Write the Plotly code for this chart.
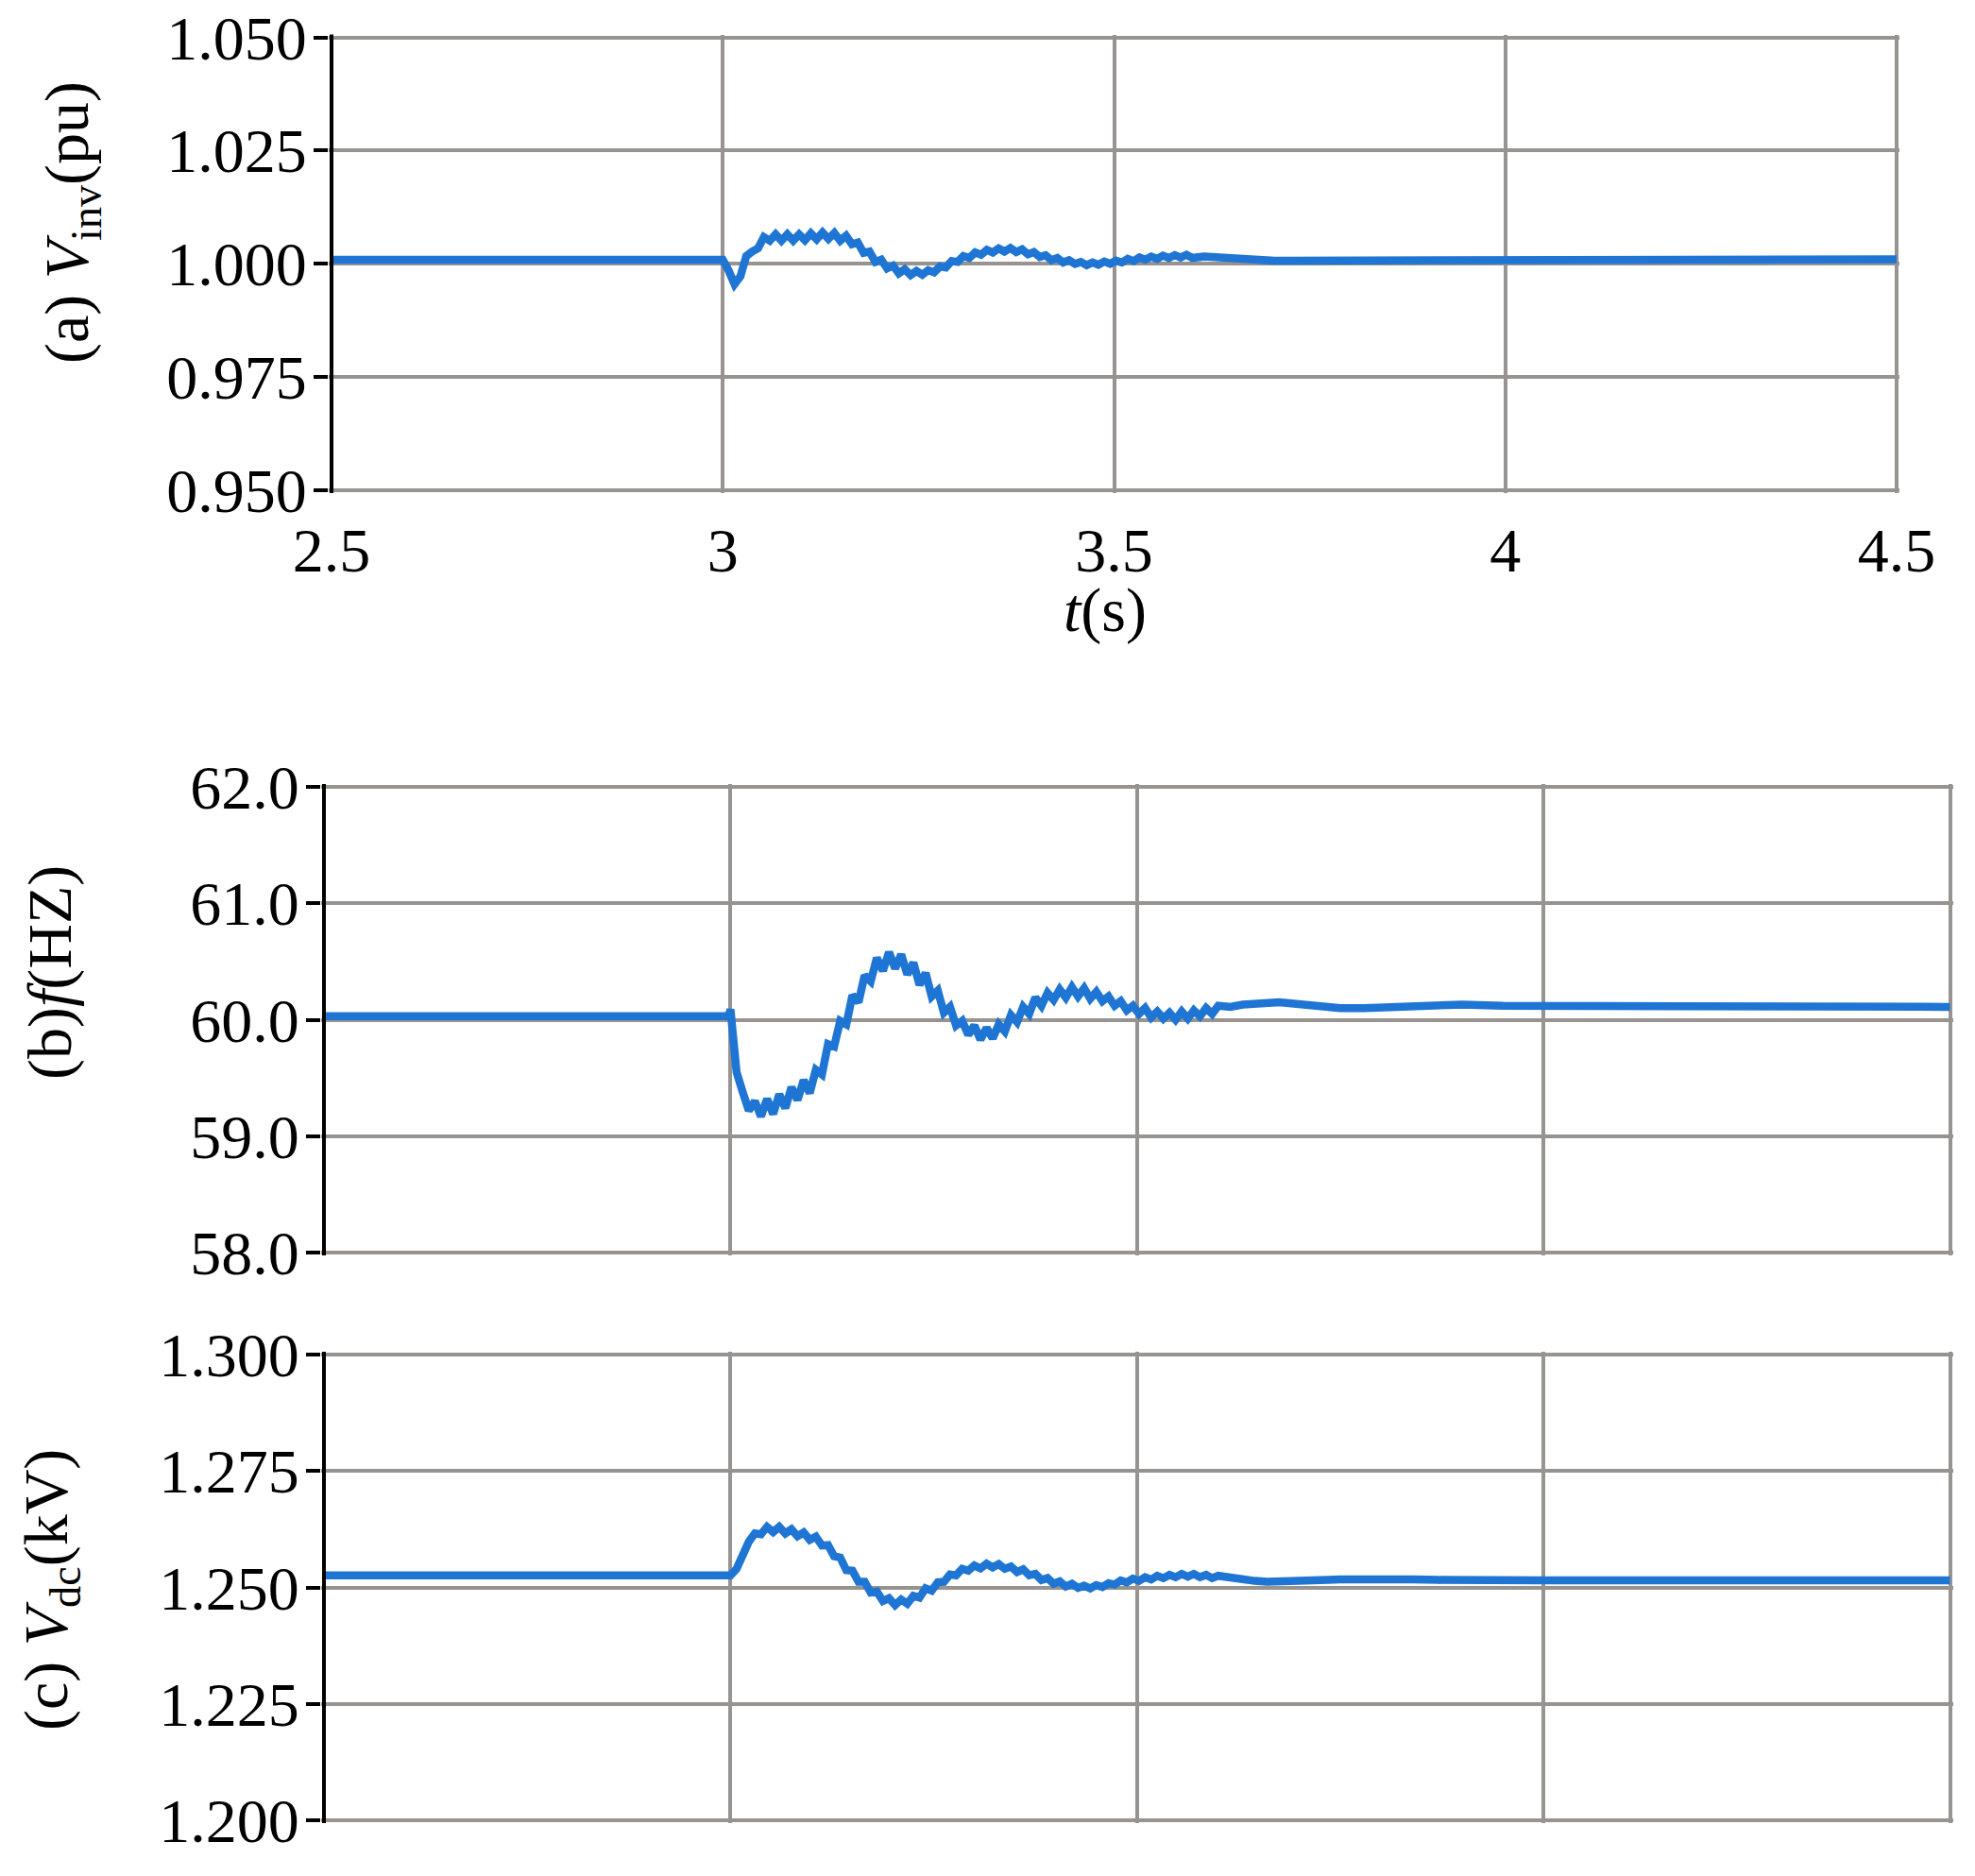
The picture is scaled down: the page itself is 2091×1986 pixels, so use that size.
import plotly.graph_objects as go

# time axis (s), shared by the three traces
t = [2.5, 2.998,
     3.0, 3.0075, 3.015, 3.0225, 3.03, 3.0375, 3.045, 3.0525, 3.06, 3.0675,
     3.075, 3.0825, 3.09, 3.0975, 3.105, 3.1125, 3.12, 3.1275, 3.135, 3.1425,
     3.15, 3.1575, 3.165, 3.1725, 3.18, 3.1875, 3.195, 3.2025, 3.21, 3.2175,
     3.225, 3.2325, 3.24, 3.2475, 3.255, 3.2625, 3.27, 3.2775, 3.285, 3.2925,
     3.3, 3.3075, 3.315, 3.3225, 3.33, 3.3375, 3.345, 3.3525, 3.36, 3.3675,
     3.375, 3.3825, 3.39, 3.3975, 3.405, 3.4125, 3.42, 3.4275, 3.435, 3.4425,
     3.45, 3.4575, 3.465, 3.4725, 3.48, 3.4875, 3.495, 3.5025, 3.51, 3.5175,
     3.525, 3.5325, 3.54, 3.5475, 3.555, 3.5625, 3.57, 3.5775, 3.585, 3.5925,
     3.6,
     3.615, 3.63, 3.645, 3.66, 3.675, 3.69, 3.705, 3.72, 3.735, 3.75,
     3.78, 3.81, 3.84, 3.87, 3.9, 3.95, 4.0, 4.1, 4.2, 4.3, 4.4, 4.5]

v_inv = [1.0009, 1.0009,
         1.0009, 0.9985, 0.9955, 0.9972, 1.0017, 1.0027, 1.0034, 1.0059, 1.0051, 1.0065,
         1.0051, 1.0065, 1.0051, 1.0065, 1.0052, 1.0067, 1.0054, 1.0069, 1.0055, 1.0068,
         1.0051, 1.0062, 1.0043, 1.0047, 1.0024, 1.0027, 1.0004, 1.0009, 0.9990, 0.9996,
         0.9979, 0.9988, 0.9975, 0.9984, 0.9976, 0.9986, 0.9981, 0.9994, 0.9992, 1.0006,
         1.0004, 1.0017, 1.0013, 1.0025, 1.0020, 1.0031, 1.0025, 1.0034, 1.0027, 1.0035,
         1.0026, 1.0032, 1.0021, 1.0026, 1.0015, 1.0019, 1.0008, 1.0013, 1.0003, 1.0008,
         1.0000, 1.0004, 0.9997, 1.0003, 0.9998, 1.0005, 1.0000, 1.0007, 1.0003, 1.0011,
         1.0006, 1.0014, 1.0009, 1.0016, 1.0011, 1.0018, 1.0013, 1.0019, 1.0014, 1.0020,
         1.0013,
         1.0016, 1.0014, 1.0012, 1.0010, 1.0008, 1.0007, 1.0007, 1.0007, 1.0007, 1.0008,
         1.0010, 1.0011, 1.0011, 1.0011, 1.0010, 1.0010, 1.0010, 1.0010, 1.0010, 1.0010,
         1.0010, 1.0010]

freq = [60.03, 60.03,
        60.09, 59.55, 59.38, 59.22, 59.30, 59.17, 59.32, 59.19, 59.36, 59.24,
        59.42, 59.31, 59.48, 59.37, 59.57, 59.53, 59.79, 59.77, 59.99, 59.96,
        60.21, 60.15, 60.38, 60.33, 60.53, 60.42, 60.58, 60.44, 60.56, 60.39,
        60.49, 60.30, 60.40, 60.20, 60.25, 60.06, 60.11, 59.95, 59.99, 59.87,
        59.95, 59.83, 59.93, 59.84, 59.96, 59.90, 60.04, 59.98, 60.11, 60.05,
        60.19, 60.12, 60.23, 60.17, 60.26, 60.19, 60.28, 60.20, 60.27, 60.18,
        60.24, 60.16, 60.20, 60.12, 60.16, 60.08, 60.12, 60.05, 60.10, 60.02,
        60.07, 60.01, 60.06, 60.00, 60.07, 60.01, 60.08, 60.03, 60.10, 60.05,
        60.12,
        60.11, 60.13, 60.14, 60.15, 60.15, 60.14, 60.13, 60.12, 60.11, 60.10,
        60.10, 60.11, 60.12, 60.13, 60.13, 60.12, 60.12, 60.12, 60.11, 60.11,
        60.11, 60.11]

v_dc = [1.2526, 1.2526,
        1.2526, 1.2540, 1.2575, 1.2598, 1.2616, 1.2614, 1.2630, 1.2619, 1.2630, 1.2616,
        1.2625, 1.2610, 1.2618, 1.2602, 1.2609, 1.2590, 1.2591, 1.2567, 1.2564, 1.2537,
        1.2536, 1.2512, 1.2512, 1.2489, 1.2491, 1.2471, 1.2477, 1.2462, 1.2474, 1.2465,
        1.2482, 1.2478, 1.2498, 1.2493, 1.2511, 1.2512, 1.2528, 1.2526, 1.2540, 1.2536,
        1.2547, 1.2541, 1.2551, 1.2543, 1.2550, 1.2540, 1.2545, 1.2533, 1.2539, 1.2526,
        1.2529, 1.2516, 1.2520, 1.2508, 1.2513, 1.2502, 1.2508, 1.2499, 1.2504, 1.2498,
        1.2505, 1.2501, 1.2509, 1.2506, 1.2515, 1.2511, 1.2519, 1.2514, 1.2522, 1.2517,
        1.2525, 1.2520, 1.2527, 1.2522, 1.2529, 1.2523, 1.2529, 1.2522, 1.2527, 1.2520,
        1.2525,
        1.2520, 1.2517, 1.2514, 1.2512, 1.2512, 1.2513, 1.2514, 1.2515, 1.2516, 1.2517,
        1.2518, 1.2518, 1.2517, 1.2516, 1.2515, 1.2515, 1.2515, 1.2515, 1.2515, 1.2515,
        1.2515, 1.2515]

FONT = "Liberation Serif"
LINE = "#1E75D3"
GRID = "#979390"
# the page body adds an 8px margin, so the figure is 16px smaller and
# every pixel position below is the reference position minus 8
W, H = 2075, 1970
OFF = 8
PAD = 3  # px of padding so grid lines at the range ends are still drawn
FS = 66

fig = go.Figure()
fig.add_trace(go.Scatter(x=t, y=v_inv, mode="lines", line=dict(color=LINE, width=8.5),
                         xaxis="x", yaxis="y"))
fig.add_trace(go.Scatter(x=t, y=freq, mode="lines", line=dict(color=LINE, width=8.5),
                         xaxis="x2", yaxis="y2"))
fig.add_trace(go.Scatter(x=t, y=v_dc, mode="lines", line=dict(color=LINE, width=8.5),
                         xaxis="x3", yaxis="y3"))


def xdom(x0, x1):
    return [(x0 - OFF - PAD) / W, (x1 - OFF + PAD) / W]


def ydom(top, bottom):
    return [1 - (bottom - OFF + PAD) / H, 1 - (top - OFF - PAD) / H]


def xax(x0, x1, labels, anchor):
    pad = 2.0 / (x1 - x0) * PAD
    return dict(domain=xdom(x0, x1), range=[2.5 - pad, 4.5 + pad], tick0=2.5, dtick=0.5,
                anchor=anchor, automargin=False,
                showgrid=True, gridcolor=GRID, gridwidth=4, zeroline=False,
                showline=False, ticks="", showticklabels=labels,
                ticklabelstandoff=16, ticklabeloverflow="allow",
                tickfont=dict(family=FONT, size=FS, color="black"))


def yax(top, bottom, lo, hi, dtick, fmt, anchor):
    pad = (hi - lo) / (bottom - top) * PAD
    return dict(domain=ydom(top, bottom), range=[lo - pad, hi + pad], dtick=dtick, tick0=lo,
                tickformat=fmt, anchor=anchor, automargin=False,
                showgrid=True, gridcolor=GRID, gridwidth=4,
                zeroline=False, showline=False,
                ticks="outside", ticklen=15, tickwidth=4, tickcolor="black",
                ticklabelstandoff=-6, ticklabeloverflow="allow",
                tickfont=dict(family=FONT, size=FS, color="black"))


fig.update_layout(
    width=W, height=H, margin=dict(l=0, r=0, t=0, b=0, autoexpand=False),
    paper_bgcolor="white", plot_bgcolor="white", showlegend=False,
    xaxis=xax(351, 2008, True, "y"),
    yaxis=yax(39.5, 519, 0.95, 1.05, 0.025, ".3f", "x"),
    xaxis2=xax(343, 2064.5, False, "y2"),
    yaxis2=yax(833, 1326, 58, 62, 1, ".1f", "x2"),
    xaxis3=xax(343, 2064.5, False, "y3"),
    yaxis3=yax(1434, 1927, 1.2, 1.3, 0.025, ".3f", "x3"),
)

# black left axis line of each panel, spanning the first to the last y tick
for xa, ya, (x0, x1) in [("x", "y", (351, 2008)), ("x2", "y2", (343, 2064.5)),
                         ("x3", "y3", (343, 2064.5))]:
    frac = PAD / (x1 - x0 + 2 * PAD)
    fig.add_shape(type="line", xref=f"{xa} domain", yref=f"{ya} domain",
                  x0=frac, x1=frac, y0=0, y1=1, layer="above",
                  line=dict(color="black", width=4))

titles = [
    ("(a) <i>V</i><sub>inv</sub>(pu)", 76, 236),
    ("(b)<i>f</i>(HZ)", 53, 1030),
    ("(c) <i>V</i><sub>dc</sub>(kV)", 53, 1683),
]
for txt, px, py in titles:
    fig.add_annotation(text=txt, x=(px - OFF) / W, y=1 - (py - OFF) / H,
                       xref="paper", yref="paper",
                       textangle=-90, showarrow=False, xanchor="center", yanchor="middle",
                       font=dict(family=FONT, size=FS, color="black"))

fig.add_annotation(text="<i>t</i>(s)", x=(1170 - OFF) / W, y=1 - (646 - OFF) / H,
                   xref="paper", yref="paper",
                   showarrow=False, xanchor="center", yanchor="middle",
                   font=dict(family=FONT, size=FS, color="black"))

fig.write_html("out.html")
